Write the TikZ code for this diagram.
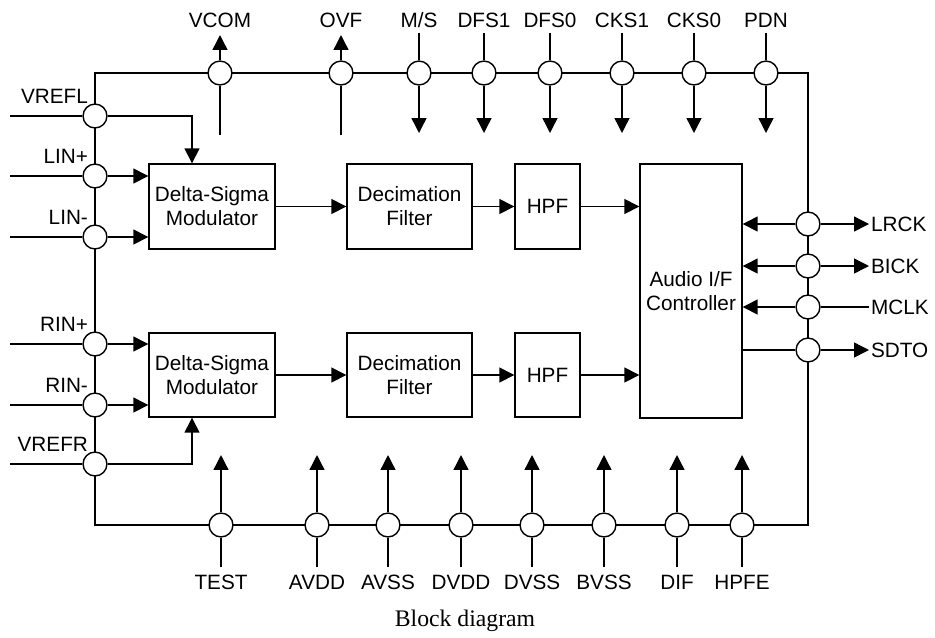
\documentclass[tikz,border=0pt]{standalone}
\usepackage{fontspec}
\setmainfont{Liberation Sans}
\newfontfamily\capfont{Liberation Serif}
\usetikzlibrary{arrows.meta, positioning}
\tikzset{
  pinc/.style={circle, draw, fill=white, line width=0.8pt, minimum size=13.6pt, inner sep=0pt},
  blk/.style={rectangle, draw, line width=0.8pt, align=center, inner sep=0pt,
              font=\fontsize{11.8}{13.6}\selectfont},
  wire/.style={line width=0.8pt},
  sig/.style={line width=0.8pt, -{Triangle[length=8.5pt, width=8.5pt]}},
  pinlbl/.style={font=\fontsize{11.8}{13.6}\selectfont, inner sep=1pt},
  chipframe/.style={line width=1.6pt},
}

\begin{document}
\begin{tikzpicture}[x=0.02cm, y=-0.02cm]
  \useasboundingbox (0,0) rectangle (935,637);
  \draw[chipframe] (95,73) rectangle (808,525);

  \node[blk, minimum width=2.52cm, minimum height=1.7cm] (dsm1) at (212,206.5) {Delta-Sigma\\Modulator};
  \node[blk, minimum width=2.5cm, minimum height=1.7cm] (dec1) at (409.5,206.5) {Decimation\\Filter};
  \node[blk, minimum width=1.3cm, minimum height=1.7cm] (hpf1) at (547.5,206.5) {HPF};
  \node[blk, minimum width=2.52cm, minimum height=1.68cm] (dsm2) at (212,375) {Delta-Sigma\\Modulator};
  \node[blk, minimum width=2.5cm, minimum height=1.68cm] (dec2) at (409.5,375) {Decimation\\Filter};
  \node[blk, minimum width=1.3cm, minimum height=1.68cm] (hpf2) at (547.5,375) {HPF};
  \node[blk, minimum width=2.04cm, minimum height=5.08cm] (aif) at (691,291) {Audio I/F\\Controller};

  \draw[sig] (dsm1) -- (dec1);
  \draw[sig] (dec1) -- (hpf1);
  \draw[sig] (hpf1.east) -- (hpf1.east -| aif.west);
  \draw[sig] (dsm2) -- (dec2);
  \draw[sig] (dec2) -- (hpf2);
  \draw[sig] (hpf2.east) -- (hpf2.east -| aif.west);

  % top pins
  \foreach \x/\n/\t in {220/vcom/VCOM, 341/ovf/OVF} {
    \node[pinc] (\n) at (\x,73) {};
    \node[pinlbl] (\n-l) at (\x,20) {\t};
    \coordinate (\n-e) at (\x,35);
    \coordinate (\n-i) at (\x,135);
    \draw[sig] (\n) -- (\n-e);
    \draw[wire] (\n) -- (\n-i);
  }
  \foreach \x/\n/\t in {419/ms/{M/S}, 484/dfsa/DFS1, 550/dfsb/DFS0, 622/cksa/CKS1, 694/cksb/CKS0, 766/pdn/PDN} {
    \node[pinc] (\n) at (\x,73) {};
    \node[pinlbl] (\n-l) at (\x,20) {\t};
    \coordinate (\n-e) at (\x,33);
    \coordinate (\n-i) at (\x,133);
    \draw[wire] (\n-e) -- (\n);
    \draw[sig] (\n) -- (\n-i);
  }

  % bottom pins
  \foreach \x/\n/\t in {221/test/TEST, 317/avdd/AVDD, 388/avss/AVSS, 461/dvdd/DVDD, 532/dvss/DVSS, 604/bvss/BVSS, 677/dif/DIF, 742/hpfe/HPFE} {
    \node[pinc] (\n) at (\x,525) {};
    \node[pinlbl] (\n-l) at (\x,582) {\t};
    \coordinate (\n-e) at (\x,567);
    \coordinate (\n-i) at (\x,455);
    \draw[wire] (\n-e) -- (\n);
    \draw[sig] (\n) -- (\n-i);
  }

  % left pins
  \foreach \y/\n/\t in {116/vrefl/VREFL, 176/linp/LIN+, 237/linm/LIN-, 344/rinp/RIN+, 405/rinm/RIN-, 464/vrefr/VREFR} {
    \node[pinc] (\n) at (95,\y) {};
    \node[pinlbl, anchor=east] (\n-l) at (90,\y-20) {\t};
    \coordinate (\n-e) at (10,\y);
    \draw[wire] (\n-e) -- (\n);
  }
  \draw[sig] (vrefl) -| ([xshift=-0.4cm]dsm1.north);
  \draw[sig] (linp) -- (linp -| dsm1.west);
  \draw[sig] (linm) -- (linm -| dsm1.west);
  \draw[sig] (rinp) -- (rinp -| dsm2.west);
  \draw[sig] (rinm) -- (rinm -| dsm2.west);
  \draw[sig] (vrefr) -| ([xshift=-0.4cm]dsm2.south);

  % right pins
  \foreach \y/\n/\t in {224/lrck/LRCK, 266/bick/BICK, 307/mclk/MCLK, 350/sdto/SDTO} {
    \node[pinc] (\n) at (808,\y) {};
    \node[pinlbl, anchor=west] (\n-l) at (869,\y) {\t};
  }
  \draw[sig] (lrck) -- (lrck -| aif.east);
  \draw[sig] (lrck) -- (lrck-l.west);
  \draw[sig] (bick) -- (bick -| aif.east);
  \draw[sig] (bick) -- (bick-l.west);
  \draw[sig] (mclk) -- (mclk -| aif.east);
  \draw[wire] (mclk-l.west) -- (mclk);
  \draw[wire] (sdto -| aif.east) -- (sdto);
  \draw[sig] (sdto) -- (sdto-l.west);

  \node[font=\capfont\fontsize{13.5}{15}\selectfont] (cap) at (465,621) {Block diagram};
\end{tikzpicture}
\end{document}
